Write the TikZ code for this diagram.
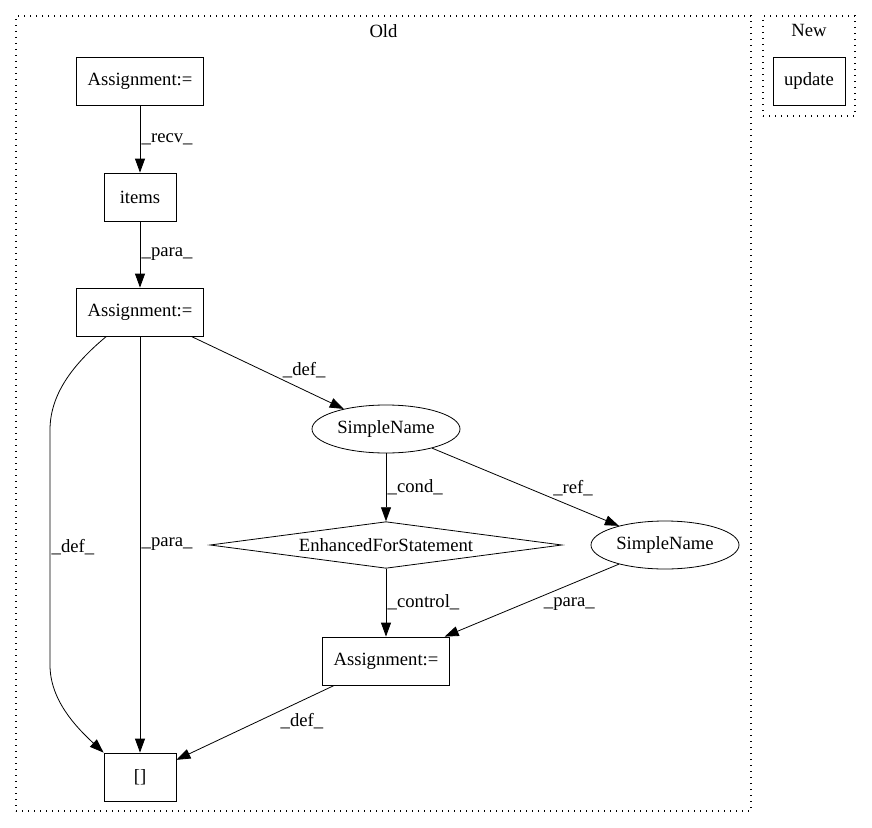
\documentclass[tikz,border=0pt]{standalone}
\usepackage{fontspec}
\setmainfont{Liberation Serif}
\usepackage{tikz}
\usetikzlibrary{positioning,shapes,arrows.meta}
\tikzstyle{box}=[%
      rectangle, draw=black, semithick, fill=none,
      minimum height=36pt, minimum width=54pt, inner xsep=8pt
]
\tikzstyle{nm}=[%
      ellipse, draw=black, semithick, fill=none,
      minimum height=36pt, minimum width=111pt, inner sep=0pt
]
\tikzstyle{cnd}=[%
      diamond, draw=black, semithick, fill=none, aspect=7.3,
      minimum height=35pt, minimum width=264pt, inner sep=0pt
]
\tikzstyle{cluster}=[%
      rectangle, draw=black, line width=0.9pt, dash pattern=on 0.9pt off 3.6pt
]
\tikzstyle{lbl}=[inner sep=1pt]

\begin{document}
\begin{tikzpicture}[x=0.75pt, y=-0.75pt,
    font=\fontsize{14}{16}\selectfont,
    semithick,
    ->,
    >={Triangle[length=10.5pt, width=7.5pt]}
  ]
    \useasboundingbox (0,0) rectangle (872,828);

    % clusters
    \node[cluster, minimum width=551.25pt, minimum height=596.25pt] (old) at (383.5,413.5) {};
    \node[anchor=north, yshift=-3pt] (oldname) at (old.north) {Old};
    \node[cluster, minimum width=69pt, minimum height=75pt] (new) at (809,66) {};
    \node[anchor=north, yshift=-3pt] (newname) at (new.north) {New};

    % old
    \node[box] (a1)    at (140,81)  {Assignment:=};
    \node[box] (items) at (140,197) {items};
    \node[box] (a2)    at (140,312) {Assignment:=};
    \node[nm]  (sn1)   at (386,429) {SimpleName};
    \node[cnd] (efs)   at (386,545) {EnhancedForStatement};
    \node[nm]  (sn2)   at (665,545) {SimpleName};
    \node[box] (a3)    at (386,661) {Assignment:=};
    \node[box] (nul)   at (140,777) {[]};

    % new
    \node[box] (upd)   at (809,81)  {update};

    \path (a1) edge node[lbl, anchor=west] {\_recv\_} (items)
          (items) edge node[lbl, anchor=west] {\_para\_} (a2)
          (a2) edge node[lbl, anchor=south west, pos=0.59] {\_def\_} (sn1)
          (a2) edge node[lbl, anchor=west, pos=0.5] {\_para\_} (nul)
          (sn1) edge node[lbl, anchor=west] {\_cond\_} (efs)
          (sn1) edge node[lbl, anchor=south west, pos=0.64] {\_ref\_} (sn2)
          (efs) edge node[lbl, anchor=west] {\_control\_} (a3)
          (sn2) edge node[lbl, anchor=north west, pos=0.44] {\_para\_} (a3)
          (a3) edge node[lbl, anchor=north west, pos=0.35] {\_def\_} (nul)
    ;
    \draw (a2.216) .. controls (72,365) and (50,395) .. (50,430)
          -- node[lbl, anchor=west] {\_def\_} (50,665)
          .. controls (50,700) and (76,727) .. (nul.north west);
  \end{tikzpicture}
\end{document}
